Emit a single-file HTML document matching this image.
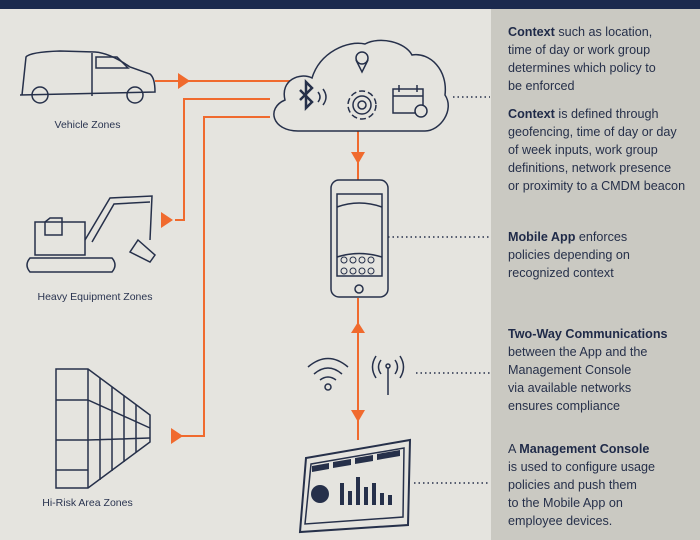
<!DOCTYPE html>
<html><head><meta charset="utf-8"><style>
body{margin:0;width:700px;height:540px;overflow:hidden;background:#e5e4df;font-family:"Liberation Sans",sans-serif;position:relative}
.bar{position:absolute;left:0;top:0;width:700px;height:9px;background:#1b2a4e}
.panel{position:absolute;left:491px;top:9px;width:209px;height:531px;background:#cac9c2}
.t{position:absolute;left:508px;color:#26304a;font-size:12.6px;line-height:18px;white-space:nowrap}
.t b{color:#1f2a48}
.lbl{position:absolute;color:#2a3450;font-size:10.5px;text-align:center}
svg{position:absolute;left:0;top:0}
</style></head><body>
<div class="bar"></div>
<div class="panel"></div>
<svg width="700" height="540" viewBox="0 0 700 540">
<g stroke="#f06a2e" stroke-width="2" fill="none">
<path d="M155 81H290"/>
<path d="M175 220H184V99H270"/>
<path d="M175 436H204V117H270"/>
<path d="M358 130V180"/>
<path d="M358 298V440"/>
</g>
<g fill="#f06a2e">
<path d="M178 73L190 81L178 89Z"/>
<path d="M161 212L173 220L161 228Z"/>
<path d="M171 428L183 436L171 444Z"/>
<path d="M351 152L365 152L358 164Z"/>
<path d="M351 333L365 333L358 322Z"/>
<path d="M351 410L365 410L358 422Z"/>
</g>
<g stroke="#26304a" stroke-width="1.5" fill="none">
<path d="M298 131C272 131 266 108 285 100C280 80 300 72 312 78C320 52 348 40 365 44C380 36 405 42 412 55C430 52 448 70 445 95C455 110 440 131 425 131Z" fill="#e5e4df"/>
<circle cx="362" cy="58" r="6"/><path d="M356 60L362 72L368 60"/>
<circle cx="362" cy="105" r="4"/><circle cx="362" cy="105" r="9"/><circle cx="362" cy="105" r="14" stroke-dasharray="6 3"/>
<rect x="393" y="89" width="30" height="24"/><path d="M393 96H423M399 85V92M417 85V92"/>
<circle cx="421" cy="111" r="6" fill="#e5e4df"/>
<path d="M300 90L312 102L306 108V82L312 88L300 100" stroke-width="2.5"/>
<path d="M318 92Q322 97 318 102M323 89Q329 97 323 105"/>
<rect x="331" y="180" width="57" height="117" rx="8"/>
<rect x="337" y="194" width="45" height="82" fill="#e5e4df"/>
<circle cx="359" cy="289" r="4"/>
<path d="M337 207Q359 199 382 207M337 257Q359 250 382 257"/>
<g stroke-width="1"><circle cx="344" cy="260" r="3"/><circle cx="353" cy="260" r="3"/><circle cx="362" cy="260" r="3"/><circle cx="371" cy="260" r="3"/><circle cx="344" cy="271" r="3"/><circle cx="353" cy="271" r="3"/><circle cx="362" cy="271" r="3"/><circle cx="371" cy="271" r="3"/></g>
<path d="M308 367Q328 350 348 367M314 374Q328 362 342 374M320 380Q328 374 336 380"/>
<circle cx="328" cy="387" r="3"/>
<path d="M388 368V395"/><circle cx="388" cy="366" r="2"/>
<path d="M381 360Q376 367 381 374M376 356Q369 367 376 378M395 360Q400 367 395 374M400 356Q407 367 400 378"/>
<path d="M306 458L410 440L408 525L300 532Z" stroke-width="2"/>
<path d="M311 464L404 448L403 517L305 524Z"/>
<path d="M22 95L26 57Q30 52 60 51L95 52Q110 53 130 67L150 74Q155 78 155 92L20 95Z"/>
<circle cx="40" cy="95" r="8"/><circle cx="135" cy="95" r="8"/>
<path d="M92 53V96M96 57H117L128 68H96Z"/>
<path d="M35 222H85V255H35Z"/><path d="M45 222V235H62V218H50Z"/>
<path d="M30 258H112Q118 265 112 272H30Q24 265 30 258Z"/>
<path d="M85 240L110 198L152 196L150 240"/><path d="M92 242L114 204L150 202"/>
<path d="M138 240L155 255L150 262L130 252Z"/>
<path d="M56 369L88 369L150 415L150 442L88 488L56 488Z"/>
<path d="M88 369V488M56 400H88L150 428M56 440H88L150 438M56 470H88M100 378V480M112 387V471M124 396V462M136 405V452"/>
</g>
<g fill="#26304a">
<path d="M312 466L329 463V469L312 472ZM333 462L351 459V465L333 468ZM355 458L373 455V461L355 464ZM377 454L400 450V456L377 460Z"/>
<circle cx="320" cy="494" r="9"/>
<path d="M340 505h4v-22h-4zM348 505h4v-14h-4zM356 505h4v-28h-4zM364 505h4v-18h-4zM372 505h4v-22h-4zM380 505h4v-12h-4zM388 505h4v-10h-4z"/>
</g>
<g stroke="#26304a" stroke-width="1.4" stroke-dasharray="1.5 3">
<path d="M453 97H490"/><path d="M388 237H490"/><path d="M416 373H490"/><path d="M414 483H490"/>
</g>
</svg>
<div class="lbl" style="left:40px;top:119px;width:95px">Vehicle Zones</div>
<div class="lbl" style="left:20px;top:291px;width:150px">Heavy Equipment Zones</div>
<div class="lbl" style="left:20px;top:497px;width:135px">Hi-Risk Area Zones</div>
<div class="t" style="top:23px"><b>Context</b> such as location,<br>time of day or work group<br>determines which policy to<br>be enforced</div>
<div class="t" style="top:105px"><b>Context</b> is defined through<br>geofencing, time of day or day<br>of week inputs, work group<br>definitions, network presence<br>or proximity to a CMDM beacon</div>
<div class="t" style="top:228px"><b>Mobile App</b> enforces<br>policies depending on<br>recognized context</div>
<div class="t" style="top:325px"><b>Two-Way Communications</b><br>between the App and the<br>Management Console<br>via available networks<br>ensures compliance</div>
<div class="t" style="top:440px">A <b>Management Console</b><br>is used to configure usage<br>policies and push them<br>to the Mobile App on<br>employee devices.</div>
</body></html>
